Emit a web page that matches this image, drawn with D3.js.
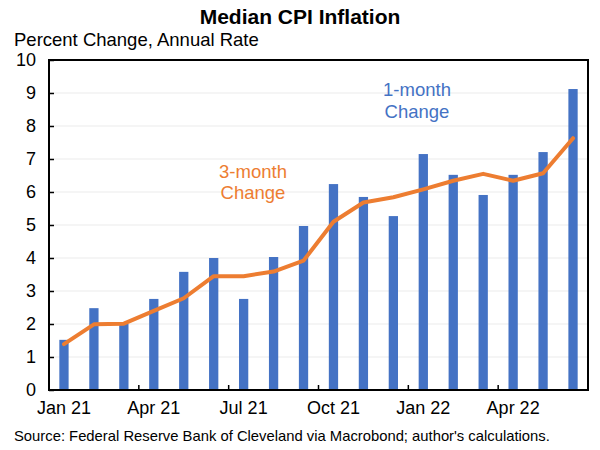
<html>
<head>
<meta charset="utf-8">
<title>Median CPI Inflation</title>
<style>
  body { margin: 0; background: #fff; }
  text { font-family: "Liberation Sans", Arial, sans-serif; }
</style>
</head>
<body>
<script src="https://cdn.jsdelivr.net/npm/d3@7"></script>
<script>
// months, Jan 21 .. Jun 22
var months = ["Jan 21","Feb 21","Mar 21","Apr 21","May 21","Jun 21","Jul 21","Aug 21","Sep 21",
              "Oct 21","Nov 21","Dec 21","Jan 22","Feb 22","Mar 22","Apr 22","May 22","Jun 22"];
var oneMonth = [1.52, 2.48, 2.0, 2.76, 3.58, 4.0, 2.76, 4.03, 4.97,
                6.24, 5.85, 5.27, 7.15, 6.52, 5.91, 6.52, 7.21, 9.12];
var threeMonth = [1.39, 1.99, 2.01, 2.4, 2.78, 3.45, 3.45, 3.59, 3.92,
                  5.1, 5.68, 5.84, 6.08, 6.34, 6.55, 6.34, 6.57, 7.63];
var xTickLabels = ["Jan 21","Apr 21","Jul 21","Oct 21","Jan 22","Apr 22"];
var yTicks = [0,1,2,3,4,5,6,7,8,9,10];

var width = 600, height = 450;
var margin = {left: 49, right: 12, top: 60, bottom: 60};
var blue = "#4472C4", orange = "#ED7D31";

var svg = d3.select("body").append("svg")
    .attr("width", width)
    .attr("height", height);

var xScale = d3.scaleBand()
    .domain(months)
    .range([margin.left, width - margin.right])
    .paddingInner(0.69)
    .paddingOuter(0.345);

var yScale = d3.scaleLinear()
    .domain([0, 10])
    .range([height - margin.bottom, margin.top]);

// gridlines
svg.append("g").selectAll("line")
    .data(yTicks.slice(1, -1))
    .enter().append("line")
    .attr("x1", margin.left).attr("x2", width - margin.right)
    .attr("y1", function(d){ return yScale(d); })
    .attr("y2", function(d){ return yScale(d); })
    .attr("stroke", "#ebebeb")
    .attr("stroke-width", 1);

// bars
svg.append("g").selectAll("rect")
    .data(oneMonth)
    .enter().append("rect")
    .attr("fill", blue)
    .attr("x", function(d, i){ return xScale(months[i]); })
    .attr("width", xScale.bandwidth())
    .attr("y", function(d){ return yScale(d); })
    .attr("height", function(d){ return yScale(0) - yScale(d); });

// 3-month line
var line = d3.line()
    .x(function(d, i){ return xScale(months[i]) + xScale.bandwidth() / 2; })
    .y(function(d){ return yScale(d); });

svg.append("path")
    .datum(threeMonth)
    .attr("d", line)
    .attr("fill", "none")
    .attr("stroke", orange)
    .attr("stroke-width", 4)
    .attr("stroke-linejoin", "round")
    .attr("stroke-linecap", "round");

// frame
svg.append("rect")
    .attr("x", margin.left).attr("y", margin.top)
    .attr("width", width - margin.left - margin.right)
    .attr("height", height - margin.top - margin.bottom)
    .attr("fill", "none")
    .attr("stroke", "#000")
    .attr("stroke-width", 2);

// y axis
var yAxis = d3.axisLeft(yScale)
    .tickValues(yTicks)
    .tickSize(-5)
    .tickPadding(13);
var gy = svg.append("g")
    .attr("transform", "translate(" + margin.left + ",0)")
    .call(yAxis);
gy.select(".domain").remove();
gy.selectAll(".tick line").attr("stroke", "#000").attr("stroke-width", 1.5);
gy.selectAll("text")
    .attr("font-size", 18)
    .attr("fill", "#000")
    .style("font-family", "'Liberation Sans', Arial, sans-serif");

// x axis: quarterly ticks at band boundaries, labels centred on month
var step = xScale.step();
var bandStart = function(m){ return xScale(m) - xScale.paddingInner() * step / 2; };
var gx = svg.append("g");
gx.selectAll("line")
    .data(xTickLabels.slice(1))
    .enter().append("line")
    .attr("x1", function(d){ return bandStart(d); })
    .attr("x2", function(d){ return bandStart(d); })
    .attr("y1", yScale(0))
    .attr("y2", yScale(0) - 5)
    .attr("stroke", "#000")
    .attr("stroke-width", 1.5);
gx.selectAll("text")
    .data(xTickLabels)
    .enter().append("text")
    .attr("x", function(d){ return xScale(d) + xScale.bandwidth() / 2; })
    .attr("y", yScale(0) + 24)
    .attr("text-anchor", "middle")
    .attr("font-size", 18)
    .text(function(d){ return d; });

// titles
svg.append("text")
    .attr("x", 300).attr("y", 24)
    .attr("text-anchor", "middle")
    .attr("font-size", 21)
    .attr("font-weight", "bold")
    .text("Median CPI Inflation");
svg.append("text")
    .attr("x", 14).attr("y", 46)
    .attr("font-size", 18.5)
    .text("Percent Change, Annual Rate");

// series annotations
var ann1 = svg.append("text")
    .attr("text-anchor", "middle")
    .attr("font-size", 18.5)
    .attr("fill", blue);
ann1.append("tspan").attr("x", 417).attr("y", 96).text("1-month");
ann1.append("tspan").attr("x", 417).attr("y", 118).text("Change");

var ann3 = svg.append("text")
    .attr("text-anchor", "middle")
    .attr("font-size", 18.5)
    .attr("fill", orange);
ann3.append("tspan").attr("x", 253).attr("y", 178).text("3-month");
ann3.append("tspan").attr("x", 253).attr("y", 199).text("Change");

// source
svg.append("text")
    .attr("x", 14).attr("y", 441)
    .attr("font-size", 14.8)
    .text("Source: Federal Reserve Bank of Cleveland via Macrobond; author's calculations.");
</script>
</body>
</html>
